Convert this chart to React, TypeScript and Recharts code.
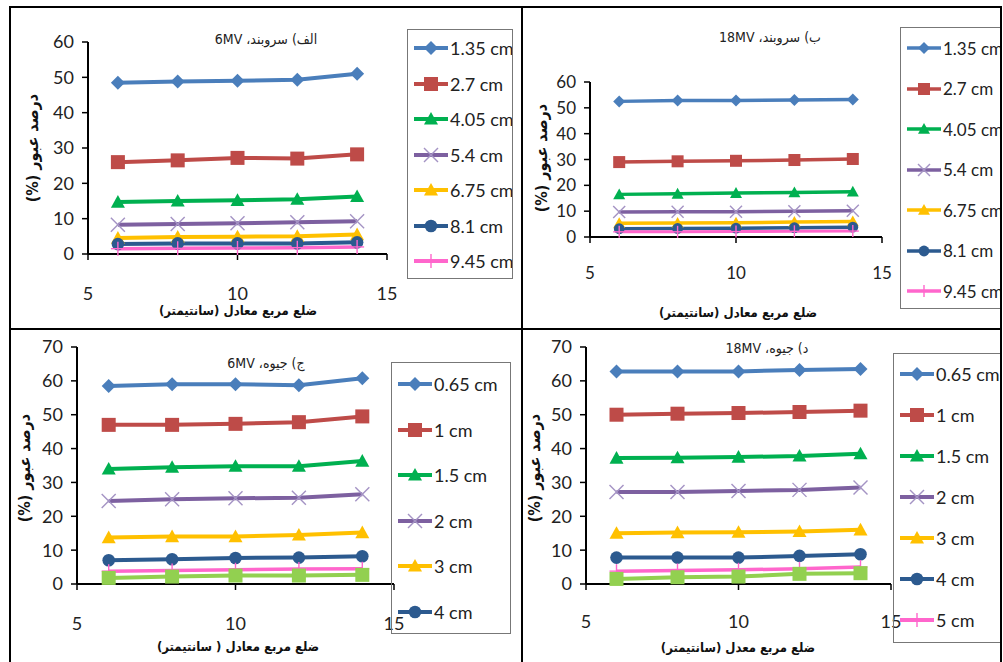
import React from 'react';
import { LineChart, Line, XAxis, YAxis } from 'recharts';

// equivalent square side (cm)
const fieldSizes = [6, 8, 10, 12, 14];
const xTicks = [5, 10, 15];
const yTicks60 = [0, 10, 20, 30, 40, 50, 60];
const yTicks70 = [0, 10, 20, 30, 40, 50, 60, 70];

// الف) سروبند، 6MV
const cerro6Labels = ['1.35 cm', '2.7 cm', '4.05 cm', '5.4 cm', '6.75 cm', '8.1 cm', '9.45 cm'];
const cerro6_135 = [48.5, 48.8, 49, 49.3, 51];
const cerro6_27 = [26, 26.5, 27.2, 27, 28.2];
const cerro6_405 = [14.7, 15, 15.2, 15.5, 16.3];
const cerro6_54 = [8.3, 8.5, 8.7, 9, 9.3];
const cerro6_675 = [4.5, 4.8, 4.9, 5, 5.5];
const cerro6_81 = [2.8, 3, 3, 3, 3.3];
const cerro6_945 = [1.5, 1.6, 1.7, 1.8, 2];

// ب) سروبند، 18MV
const cerro18Labels = ['1.35 cm', '2.7 cm', '4.05 cm', '5.4 cm', '6.75 cm', '8.1 cm', '9.45 cm'];
const cerro18_135 = [52.5, 52.8, 52.8, 53, 53.2];
const cerro18_27 = [29, 29.3, 29.5, 29.8, 30.2];
const cerro18_405 = [16.5, 16.7, 17, 17.2, 17.5];
const cerro18_54 = [9.7, 9.8, 9.8, 10, 10.2];
const cerro18_675 = [5.3, 5.4, 5.5, 5.8, 6];
const cerro18_81 = [3.2, 3.3, 3.4, 3.6, 3.8];
const cerro18_945 = [2, 2, 2.1, 2.2, 2.3];

// ج) جیوه، 6MV
const hg6Labels = ['0.65 cm', '1 cm', '1.5 cm', '2 cm', '3 cm', '4 cm', '5 cm', '6 cm'];
const hg6_065 = [58.5, 59, 59, 58.7, 60.8];
const hg6_1 = [47, 47, 47.3, 47.8, 49.5];
const hg6_15 = [34, 34.5, 34.8, 34.8, 36.3];
const hg6_2 = [24.5, 25, 25.3, 25.5, 26.5];
const hg6_3 = [13.7, 14, 14, 14.5, 15.2];
const hg6_4 = [7, 7.3, 7.7, 7.8, 8.2];
const hg6_5 = [3.8, 4, 4.2, 4.4, 4.5];
const hg6_6 = [1.8, 2.2, 2.5, 2.5, 2.7];

// د) جیوه، 18MV
const hg18Labels = ['0.65 cm', '1 cm', '1.5 cm', '2 cm', '3 cm', '4 cm', '5 cm', '6 cm'];
const hg18_065 = [62.8, 62.8, 62.8, 63.2, 63.5];
const hg18_1 = [50, 50.3, 50.5, 50.8, 51.2];
const hg18_15 = [37.2, 37.3, 37.5, 37.8, 38.5];
const hg18_2 = [27.2, 27.2, 27.5, 27.8, 28.5];
const hg18_3 = [15, 15.2, 15.3, 15.5, 16];
const hg18_4 = [7.8, 7.8, 7.8, 8.3, 8.8];
const hg18_5 = [3.8, 4, 4.2, 4.5, 5];
const hg18_6 = [1.5, 2, 2.2, 3, 3.2];

const colors = ['#4A7EBB', '#BE4B48', '#00B050', '#7D60A0', '#FFC000', '#2C5A8F', '#FF66CC', '#92D050'];
const markers = ['diamond', 'square', 'triangle', 'cross', 'triangle', 'circle', 'plus', 'square'];

const latin = 'Lato, "DejaVu Sans", sans-serif';
const persian = '"DejaVu Sans Condensed", "DejaVu Sans", sans-serif';

function Marker({ type, cx, cy, color, s }: { type: string; cx: number; cy: number; color: string; s: number }) {
  if (type === 'diamond')
    return <polygon points={`${cx},${cy - s} ${cx + s},${cy} ${cx},${cy + s} ${cx - s},${cy}`} fill={color} />;
  if (type === 'square') return <rect x={cx - s} y={cy - s} width={s * 2} height={s * 2} fill={color} />;
  if (type === 'triangle')
    return <polygon points={`${cx},${cy - s} ${cx + s},${cy + s * 0.8} ${cx - s},${cy + s * 0.8}`} fill={color} />;
  if (type === 'circle') return <circle cx={cx} cy={cy} r={s * 0.9} fill={color} />;
  if (type === 'cross')
    return (
      <g stroke="#A493C4" strokeWidth={1.4}>
        <line x1={cx - s} y1={cy - s} x2={cx + s} y2={cy + s} />
        <line x1={cx - s} y1={cy + s} x2={cx + s} y2={cy - s} />
      </g>
    );
  return (
    <g stroke={color} strokeWidth={1.4}>
      <line x1={cx} y1={cy - s} x2={cx} y2={cy + s} />
      <line x1={cx - s} y1={cy} x2={cx + s} y2={cy} />
    </g>
  );
}

function makeRows(series: number[][]) {
  return fieldSizes.map((x, i) => {
    const row: Record<string, number> = { x };
    series.forEach((s, j) => (row['s' + j] = s[i]));
    return row;
  });
}

type PanelProps = {
  box: { left: number; top: number; width: number; height: number };
  margin: { top: number; right: number; bottom: number };
  yAxisWidth: number;
  yMax: number;
  yTicks: number[];
  tickMargin: number;
  series: number[][];
  labels: string[];
  title: string;
  titleAt: { x: number; y: number };
  xTitle: string;
  xTitleAt: { x: number; y: number };
  yTitleAt: { x: number; y: number };
  legend: { left: number; top: number; width: number; height: number; rowH: number; first: number; count: number };
  marker: number;
  lineW: number;
  font: number;
};

function Panel(p: PanelProps) {
  const data = makeRows(p.series);
  const tick = { fontSize: p.font, fill: '#222', fontFamily: latin };
  return (
    <>
      <div style={{ position: 'absolute', left: p.box.left, top: p.box.top }}>
        <LineChart
          width={p.box.width}
          height={p.box.height}
          data={data}
          margin={{ top: p.margin.top, right: p.margin.right, bottom: p.margin.bottom, left: 0 }}
          style={{ overflow: 'visible' }}
        >
          <XAxis
            dataKey="x"
            type="number"
            domain={[5, 15]}
            ticks={xTicks}
            tick={tick}
            tickSize={6}
            tickMargin={p.tickMargin}
            height={60}
            axisLine={{ stroke: '#000', strokeWidth: 2 }}
            tickLine={{ stroke: '#000', strokeWidth: 1.5 }}
          />
          <YAxis
            type="number"
            domain={[0, p.yMax]}
            ticks={p.yTicks}
            tick={tick}
            width={p.yAxisWidth}
            tickSize={6}
            tickMargin={8}
            interval={0}
            axisLine={{ stroke: '#000', strokeWidth: 2 }}
            tickLine={{ stroke: '#000', strokeWidth: 1.5 }}
          />
          {p.series.map((_, j) => (
            <Line
              key={j}
              dataKey={'s' + j}
              name={p.labels[j]}
              stroke={colors[j]}
              strokeWidth={j === 6 ? p.lineW - 0.5 : p.lineW}
              isAnimationActive={false}
              dot={(d: any) => (
                <Marker key={`d${j}-${d.index}`} type={markers[j]} cx={d.cx} cy={d.cy} color={colors[j]} s={p.marker} />
              )}
              activeDot={false}
            />
          ))}
        </LineChart>
      </div>
      <div
        style={{
          position: 'absolute',
          left: p.titleAt.x - 100,
          top: p.titleAt.y - 8,
          width: 200,
          textAlign: 'center',
          fontFamily: persian,
          fontSize: 14,
          lineHeight: '16px',
          color: '#222',
          direction: 'rtl',
        }}
      >
        {p.title}
      </div>
      <div
        style={{
          position: 'absolute',
          left: p.xTitleAt.x - 120,
          top: p.xTitleAt.y - 7,
          width: 240,
          textAlign: 'center',
          fontFamily: persian,
          fontWeight: 'bold',
          fontSize: 13,
          lineHeight: '14px',
          color: '#111',
          direction: 'rtl',
        }}
      >
        {p.xTitle}
      </div>
      <div
        style={{
          position: 'absolute',
          left: p.yTitleAt.x - 80,
          top: p.yTitleAt.y - 8,
          width: 160,
          textAlign: 'center',
          fontFamily: persian,
          fontWeight: 'bold',
          fontSize: 16,
          lineHeight: '16px',
          color: '#111',
          direction: 'rtl',
          transform: 'rotate(-90deg)',
        }}
      >
        درصد عبور (%)
      </div>
      <div
        style={{
          position: 'absolute',
          left: p.legend.left,
          top: p.legend.top,
          width: p.legend.width,
          height: p.legend.height,
          border: '1px solid #777',
          boxSizing: 'border-box',
          overflow: 'hidden',
        }}
      >
        {p.labels.slice(0, p.legend.count).map((lab, j) => (
          <div
            key={lab}
            style={{
              position: 'absolute',
              left: 5,
              top: p.legend.first + j * p.legend.rowH - 12,
              height: 24,
              display: 'flex',
              alignItems: 'center',
              whiteSpace: 'nowrap',
              fontFamily: latin,
              fontSize: p.font,
              color: '#222',
            }}
          >
            <svg width={36} height={24} style={{ marginRight: 1 }}>
              <line x1={1} y1={12} x2={35} y2={12} stroke={colors[j]} strokeWidth={p.lineW} />
              <Marker type={markers[j]} cx={18} cy={12} color={colors[j]} s={p.marker} />
            </svg>
            {lab}
          </div>
        ))}
      </div>
    </>
  );
}

export default function App() {
  return (
    <div style={{ position: 'absolute', left: 0, top: 0, width: 1003, height: 662, background: '#fff', overflow: 'hidden' }}>
      <Panel
        box={{ left: 10, top: 7, width: 512, height: 322 }}
        margin={{ top: 35, right: 135, bottom: 15 }}
        yAxisWidth={78}
        yMax={60}
        yTicks={yTicks60}
        tickMargin={27}
        series={[cerro6_135, cerro6_27, cerro6_405, cerro6_54, cerro6_675, cerro6_81, cerro6_945]}
        labels={cerro6Labels}
        title="الف) سروبند، 6MV"
        titleAt={{ x: 266, y: 39 }}
        xTitle="ضلع مربع معادل (سانتیمتر)"
        xTitleAt={{ x: 238, y: 311 }}
        yTitleAt={{ x: 33, y: 148 }}
        legend={{ left: 407, top: 29, width: 106, height: 250, rowH: 35.5, first: 18, count: 7 }}
        marker={7}
        lineW={4}
        font={18}
      />
      <Panel
        box={{ left: 522, top: 7, width: 479, height: 322 }}
        margin={{ top: 75, right: 119, bottom: 32 }}
        yAxisWidth={68}
        yMax={60}
        yTicks={yTicks60}
        tickMargin={24}
        series={[cerro18_135, cerro18_27, cerro18_405, cerro18_54, cerro18_675, cerro18_81, cerro18_945]}
        labels={cerro18Labels}
        title="ب) سروبند، 18MV"
        titleAt={{ x: 770, y: 37 }}
        xTitle="ضلع مربع معادل (سانتیمتر)"
        xTitleAt={{ x: 738, y: 313 }}
        yTitleAt={{ x: 542, y: 158 }}
        legend={{ left: 900, top: 27, width: 102, height: 282, rowH: 40.5, first: 20, count: 7 }}
        marker={6}
        lineW={3.5}
        font={17}
      />
      <Panel
        box={{ left: 10, top: 329, width: 512, height: 333 }}
        margin={{ top: 18, right: 128, bottom: 18 }}
        yAxisWidth={67}
        yMax={70}
        yTicks={yTicks70}
        tickMargin={27}
        series={[hg6_065, hg6_1, hg6_15, hg6_2, hg6_3, hg6_4, hg6_5, hg6_6]}
        labels={hg6Labels}
        title="ج) جیوه، 6MV"
        titleAt={{ x: 266, y: 363 }}
        xTitle="ضلع مربع معادل ( سانتیمتر)"
        xTitleAt={{ x: 238, y: 647 }}
        yTitleAt={{ x: 25, y: 468 }}
        legend={{ left: 391, top: 362, width: 120, height: 272, rowH: 45.5, first: 21, count: 6 }}
        marker={7}
        lineW={4}
        font={18}
      />
      <Panel
        box={{ left: 522, top: 329, width: 479, height: 333 }}
        margin={{ top: 18, right: 110, bottom: 18 }}
        yAxisWidth={64}
        yMax={70}
        yTicks={yTicks70}
        tickMargin={25}
        series={[hg18_065, hg18_1, hg18_15, hg18_2, hg18_3, hg18_4, hg18_5, hg18_6]}
        labels={hg18Labels}
        title="د) جیوه، 18MV"
        titleAt={{ x: 767, y: 348 }}
        xTitle="ضلع مربع معدل (سانتیمتر)"
        xTitleAt={{ x: 738, y: 648 }}
        yTitleAt={{ x: 535, y: 468 }}
        legend={{ left: 893, top: 353, width: 109, height: 290, rowH: 41, first: 20, count: 7 }}
        marker={7}
        lineW={4}
        font={18}
      />
      {/* panel frame */}
      <div style={{ position: 'absolute', left: 10, top: 6, width: 992, height: 2, background: '#000' }} />
      <div style={{ position: 'absolute', left: 9, top: 6, width: 2, height: 656, background: '#000' }} />
      <div style={{ position: 'absolute', left: 521, top: 6, width: 2, height: 656, background: '#000' }} />
      <div style={{ position: 'absolute', left: 1000, top: 6, width: 2, height: 656, background: '#000' }} />
      <div style={{ position: 'absolute', left: 10, top: 328, width: 992, height: 2, background: '#000' }} />
    </div>
  );
}
